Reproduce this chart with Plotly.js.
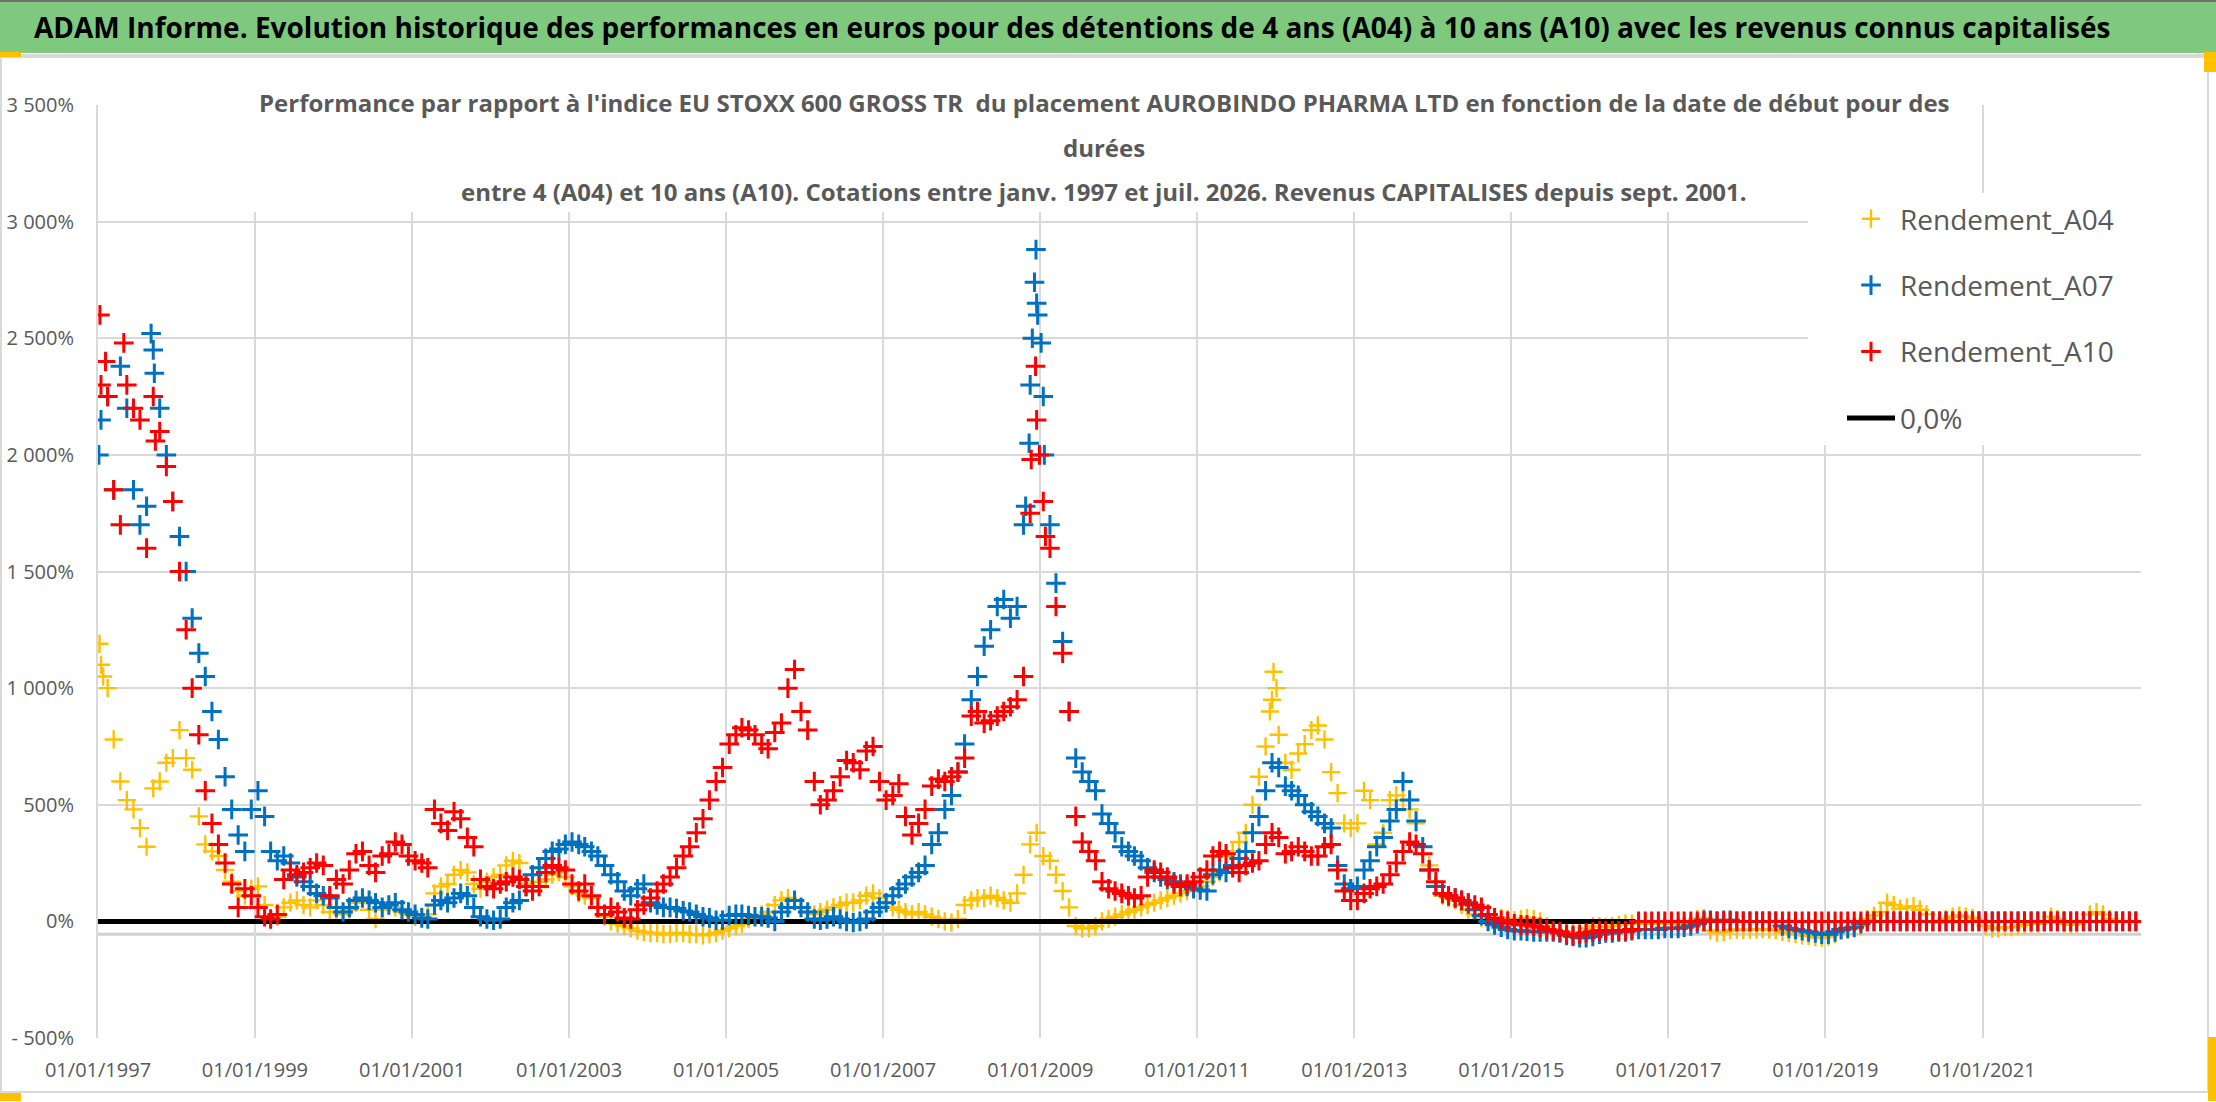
<!DOCTYPE html>
<html>
<head>
<meta charset="utf-8">
<script src="https://cdn.plot.ly/plotly-3.0.1.min.js"></script>
<style>
  html, body { margin: 0; padding: 0; background: #ffffff; }
  #graphique { width: 2216px; height: 1102px; }
</style>
</head>
<body>
<div id="graphique"></div>
<script>
// ============================================
// Performances A04 / A07 / A10 d'AUROBINDO PHARMA vs EU STOXX 600 GROSS TR
// Une valeur lue par mois (janv. 1997 -> déc. 2022), en %
// + quelques points isolés lus sur les pics
// ============================================

const premiereAnnee = 1997;   // les relevés commencent en janvier 1997

// Rendement sur 4 ans (jaune)
const rendementA04 = [
    1100, 1000, 780, 600, 520, 480, 400, 320, 570, 600, 680, 700,     // 1997
    820, 700, 650, 450, 330, 300, 280, 220, 170, 130, 110, 140,       // 1998
    150, 70, 10, 20, 60, 80, 90, 70, 60, 90, 70, 40,                  // 1999
    40, 30, 50, 80, 100, 50, 10, 50, 70, 60, 40, 30,                  // 2000
    20, 20, 30, 120, 150, 160, 200, 220, 210, 160, 140, 170,          // 2001
    190, 200, 240, 260, 250, 160, 150, 170, 180, 200, 210, 190,       // 2002
    150, 120, 110, 100, 60, 20, 0, -10, -20, -30, -40, -45,           // 2003
    -50, -50, -55, -55, -50, -50, -55, -55, -60, -55, -50, -40,       // 2004
    -30, -20, -10, 10, 20, 30, 40, 70, 90, 100, 90, 60,               // 2005
    40, 30, 40, 50, 60, 70, 80, 80, 90, 110, 120, 100,                // 2006
    80, 60, 50, 40, 30, 40, 30, 20, 10, 0, -5, 10,                    // 2007
    70, 90, 100, 100, 110, 100, 90, 80, 120, 200, 330, 380,           // 2008
    280, 260, 200, 130, 60, -20, -30, -30, -20, 0, 10, 20,            // 2009
    30, 40, 50, 60, 70, 80, 90, 100, 110, 120, 130, 140,              // 2010
    150, 170, 190, 210, 280, 300, 340, 380, 500, 620, 750, 950,       // 2011
    800, 680, 650, 720, 760, 820, 840, 780, 640, 550, 420, 400,       // 2012
    420, 560, 520, 330, 380, 520, 540, 520, 480, 420, 320, 240,       // 2013
    150, 110, 100, 90, 70, 50, 30, 15, 10, 10, 15, 10,                // 2014
    5, 10, 15, 10, 0, -20, -35, -45, -50, -50, -45, -30,              // 2015
    -20, -20, -25, -20, -15, -10, -10, -5, -10, -10, -10, -5,         // 2016
    -10, -10, -10, -10, 10, 15, -40, -48, -45, -38, -35, -38,         // 2017
    -36, -35, -33, -35, -38, -45, -50, -55, -60, -62, -68, -70,       // 2018
    -65, -55, -40, -35, -30, -20, 10, 25, 40, 80, 70, 55,             // 2019
    60, 65, 50, 30, 0, -5, 10, 20, 25, 20, 15, 5,                     // 2020
    -20, -30, -30, -25, -25, -20, -15, -10, -10, -5, 20, 10,          // 2021
    -10, -15, -10, 0, 30, 40, 30, 10, 0, 0, 0, 0                      // 2022
];

// Rendement sur 7 ans (bleu)
const rendementA07 = [
    2150, 2250, 1850, 2380, 2200, 1850, 1700, 1780, 2450, 2200, 2000, 1800,  // 1997
    1650, 1500, 1300, 1150, 1050, 900, 780, 620, 480, 370, 300, 480,         // 1998
    560, 450, 300, 260, 280, 250, 190, 170, 150, 120, 110, 100,              // 1999
    60, 40, 60, 90, 100, 90, 80, 60, 70, 80, 50, 40,                         // 2000
    30, 15, 10, 70, 90, 80, 100, 120, 110, 60, 20, 10,                       // 2001
    5, 10, 60, 80, 90, 150, 200, 230, 270, 300, 310, 330,                    // 2002
    340, 330, 320, 300, 280, 240, 200, 170, 130, 110, 140, 160,              // 2003
    80, 70, 60, 60, 55, 45, 40, 30, 20, 15, 5, 5,                            // 2004
    25, 30, 30, 25, 20, 20, 15, 0, 40, 60, 90, 60,                           // 2005
    40, 10, 5, 10, 20, 10, 0, -5, 0, 10, 40, 60,                             // 2006
    80, 110, 140, 160, 190, 210, 240, 330, 380, 480, 540, 640,               // 2007
    760, 950, 1050, 1180, 1250, 1350, 1380, 1300, 1350, 1700, 2300, 2650,    // 2008
    2250, 1700, 1450, 1200, 900, 700, 640, 600, 560, 460, 420, 380,          // 2009
    320, 300, 280, 260, 230, 210, 190, 180, 170, 160, 150, 140,              // 2010
    135, 130, 200, 220, 210, 240, 270, 300, 380, 450, 560, 680,              // 2011
    660, 580, 560, 540, 500, 470, 450, 420, 400, 240, 160, 140,              // 2012
    150, 220, 260, 320, 360, 430, 480, 600, 520, 430, 320, 220,              // 2013
    150, 120, 110, 100, 90, 80, 50, 25, 0, -15, -25, -35,                    // 2014
    -40, -40, -42, -45, -45, -45, -45, -50, -60, -65, -70, -70,              // 2015
    -65, -55, -50, -50, -45, -45, -40, -35, -35, -35, -35, -30,              // 2016
    -30, -30, -25, -20, -10, 5, 5, 0, 5, 5, 0, 0,                            // 2017
    0, 0, 0, 0, 0, -20, -30, -35, -40, -45, -50, -55,                        // 2018
    -55, -45, -35, -30, -25, -10, 0, 0, 0, 0, 0, 0,                          // 2019
    0, 0, 0, 0, 0, 0, 0, 0, 0, 0, 0, 0,                                      // 2020
    0, 0, 0, 0, 0, 0, 0, 0, 0, 0, 0, 0,                                      // 2021
    0, 0, 0, 0, 0, 0, 0, 0, 0, 0, 0, 0                                       // 2022
];

// Rendement sur 10 ans (rouge)
const rendementA10 = [
    2300, 2250, 1850, 1700, 2300, 2200, 2150, 1600, 2250, 2100, 1950, 1800,  // 1997
    1500, 1250, 1000, 800, 560, 420, 330, 250, 160, 60, 140, 110,            // 1998
    60, 20, 10, 30, 180, 220, 200, 210, 230, 250, 240, 110,                  // 1999
    180, 160, 220, 290, 300, 240, 210, 280, 290, 340, 330, 280,              // 2000
    260, 250, 230, 480, 420, 390, 470, 440, 360, 320, 180, 150,              // 2001
    140, 160, 170, 190, 180, 150, 130, 150, 210, 240, 230, 220,              // 2002
    160, 130, 160, 110, 60, 30, 60, 40, 15, 10, 50, 70,                      // 2003
    100, 130, 160, 190, 230, 280, 320, 380, 440, 520, 600, 660,              // 2004
    760, 800, 830, 820, 800, 760, 740, 810, 850, 1000, 1080, 900,            // 2005
    820, 600, 500, 520, 560, 620, 690, 680, 650, 730, 750, 600,              // 2006
    520, 540, 590, 450, 370, 420, 480, 580, 610, 600, 620, 640,              // 2007
    700, 880, 900, 850, 860, 880, 900, 920, 950, 1050, 1750, 2150,           // 2008
    1800, 1600, 1350, 1150, 900, 450, 340, 300, 260, 170, 140, 130,          // 2009
    120, 110, 100, 110, 190, 220, 210, 190, 160, 150, 160, 170,              // 2010
    190, 220, 280, 300, 290, 230, 210, 240, 250, 260, 330, 380,              // 2011
    360, 290, 300, 320, 300, 280, 280, 320, 330, 220, 130, 90,               // 2012
    90, 120, 140, 150, 160, 200, 250, 300, 340, 330, 290, 220,               // 2013
    170, 120, 110, 100, 90, 75, 70, 60, 30, 15, 5, 0,                        // 2014
    -10, -15, -15, -20, -25, -35, -40, -45, -55, -60, -55, -50,              // 2015
    -45, -40, -40, -40, -40, -40, -35, 0, 0, 0, 0, 0,                        // 2016
    0, 0, 0, 0, 0, 0, 0, 0, 0, 0, 0, 0,                                      // 2017
    0, 0, 0, 0, 0, 0, 0, 0, 0, 0, 0, 0,                                      // 2018
    0, 0, 0, 0, 0, 0, 0, 0, 0, 0, 0, 0,                                      // 2019
    0, 0, 0, 0, 0, 0, 0, 0, 0, 0, 0, 0,                                      // 2020
    0, 0, 0, 0, 0, 0, 0, 0, 0, 0, 0, 0,                                      // 2021
    0, 0, 0, 0, 0, 0, 0, 0, 0, 0, 0, 0                                       // 2022
];

const picsA04Dates = ['1997-01-08', '1997-01-25', '2011-12-05', '2011-12-22', '2012-01-05'];
const picsA04Valeurs = [1190, 1050, 900, 1070, 1000];
const picsA07Dates = ['1997-01-05', '1997-09-05', '1997-09-20', '2008-10-25', '2008-11-10',
    '2008-11-25', '2008-12-05', '2008-12-12', '2008-12-20', '2009-01-05', '2009-01-20'];
const picsA07Valeurs = [2000, 2520, 2350, 1780, 2050, 2500, 2740, 2880, 2600, 2480, 2000];
const picsA10Dates = ['1997-01-10', '1997-02-05', '1997-05-01', '1997-09-25', '2008-11-20',
    '2008-12-10', '2008-12-28', '2009-01-25'];
const picsA10Valeurs = [2600, 2400, 2480, 2060, 1980, 2380, 2000, 1650];

// Ligne de référence 0,0 %
const ligneZeroDates = ['1997-01-01', '2016-07-31'];
const ligneZeroValeurs = [0, 0];

// Graduations
const ticksDates = ['1997-01-01', '1999-01-01', '2001-01-01', '2003-01-01', '2005-01-01',
    '2007-01-01', '2009-01-01', '2011-01-01', '2013-01-01', '2015-01-01',
    '2017-01-01', '2019-01-01', '2021-01-01'];
const ticksDatesTexte = ['01/01/1997', '01/01/1999', '01/01/2001', '01/01/2003', '01/01/2005',
    '01/01/2007', '01/01/2009', '01/01/2011', '01/01/2013', '01/01/2015',
    '01/01/2017', '01/01/2019', '01/01/2021'];
const ticksPct = [-500, 0, 500, 1000, 1500, 2000, 2500, 3000, 3500];
const ticksPctTexte = ['- 500%', '0%', '500%', '1 000%', '1 500%', '2 000%', '2 500%', '3 000%', '3 500%'];

const titrePrincipal = "ADAM Informe. Evolution historique des performances en euros pour des détentions de 4 ans (A04) à 10 ans (A10) avec les revenus connus capitalisés";
const titreGraphique = [
    "Performance par rapport à l'indice EU STOXX 600 GROSS TR  du placement AUROBINDO PHARMA LTD en fonction de la date de début pour des",
    "durées",
    "entre 4 (A04) et 10 ans (A10). Cotations entre janv. 1997 et juil. 2026. Revenus CAPITALISES depuis sept. 2001."
];

// Dates du milieu de chaque mois relevé
function datesMensuelles(n) {
    const dates = [];
    for (let i = 0; i < n; i++) {
        const annee = premiereAnnee + Math.floor(i / 12);
        const mois = (i % 12) + 1;
        dates.push(annee + '-' + String(mois).padStart(2, '0') + '-15');
    }
    return dates;
}

// Cadre du graphique en pixels -> coordonnées "paper"
const cadre = { gauche: 98, droite: 2141, haut: 105, bas: 1038 };
const largeurPlot = cadre.droite - cadre.gauche;
const hauteurPlot = cadre.bas - cadre.haut;
const px = x => (x - cadre.gauche) / largeurPlot;
const py = y => (cadre.bas - y) / hauteurPlot;

const police = 'Open Sans, Lato, sans-serif';
const gris = '#595959';

function traceCroix(nom, valeurs, picsDates, picsValeurs, couleur, taille, epaisseur, rang) {
    return {
        x: datesMensuelles(valeurs.length).concat(picsDates),
        y: valeurs.concat(picsValeurs),
        type: 'scatter',
        mode: 'markers',
        name: nom,
        legendrank: rang,
        legendgroup: nom,
        marker: {
            symbol: 'cross-thin',
            size: taille,
            color: couleur,
            line: { color: couleur, width: epaisseur }
        },
        hoverinfo: 'skip'
    };
}

const traces = [
    traceCroix('Rendement_A04', rendementA04, picsA04Dates, picsA04Valeurs, '#FFC000', 13, 2.4, 1),
    {
        x: ligneZeroDates,
        y: ligneZeroValeurs,
        type: 'scatter',
        mode: 'lines',
        name: '0,0%',
        legendrank: 4,
        legendgroup: 'zero',
        line: { color: '#000000', width: 5 },
        hoverinfo: 'skip'
    },
    traceCroix('Rendement_A07', rendementA07, picsA07Dates, picsA07Valeurs, '#0070C0', 14, 3, 2),
    traceCroix('Rendement_A10', rendementA10, picsA10Dates, picsA10Valeurs, '#FF0000', 14, 3, 3)
];

const annotations = [
    {
        text: titrePrincipal,
        xref: 'paper', yref: 'paper',
        x: px(1072), y: py(27),
        xanchor: 'center', yanchor: 'middle',
        showarrow: false,
        font: { family: police, size: 28, color: '#000000', weight: 'bold' }
    }
];
const lignesTitreY = [102, 148, 192];
titreGraphique.forEach((ligne, i) => {
    annotations.push({
        text: ligne,
        xref: 'paper', yref: 'paper',
        x: px(1104), y: py(lignesTitreY[i]),
        xanchor: 'center', yanchor: 'middle',
        showarrow: false,
        font: { family: police, size: 24, color: gris, weight: 'bold' }
    });
});

const shapes = [
    // bandeau vert
    { type: 'rect', xref: 'paper', yref: 'paper', x0: px(0), x1: px(2216), y0: py(53), y1: py(0),
      fillcolor: '#7fc97f', line: { width: 0 }, layer: 'below' },
    { type: 'line', xref: 'paper', yref: 'paper', x0: px(0), x1: px(2216), y0: py(1), y1: py(1),
      line: { color: '#6e6e6e', width: 2 } },
    { type: 'line', xref: 'paper', yref: 'paper', x0: px(0), x1: px(2216), y0: py(55.5), y1: py(55.5),
      line: { color: '#d9d9d9', width: 3 } },
    // cadre de la zone graphique
    { type: 'rect', xref: 'paper', yref: 'paper', x0: px(1), x1: px(2208), y0: py(1092), y1: py(57),
      line: { color: '#d9d9d9', width: 2 }, layer: 'below' },
    // poignées de sélection
    { type: 'rect', xref: 'paper', yref: 'paper', x0: px(0), x1: px(21), y0: py(57), y1: py(52),
      fillcolor: '#ffc000', line: { width: 0 } },
    { type: 'rect', xref: 'paper', yref: 'paper', x0: px(2204), x1: px(2216), y0: py(72), y1: py(52),
      fillcolor: '#ffc000', line: { width: 0 } },
    { type: 'rect', xref: 'paper', yref: 'paper', x0: px(0), x1: px(21), y0: py(1101), y1: py(1093),
      fillcolor: '#ffc000', line: { width: 0 } },
    { type: 'rect', xref: 'paper', yref: 'paper', x0: px(2208), x1: px(2216), y0: py(1101), y1: py(1037),
      fillcolor: '#ffc000', line: { width: 0 } },
    // axe horizontal (croise sous le 0)
    { type: 'line', xref: 'paper', yref: 'y', x0: 0, x1: 1, y0: -55, y1: -55,
      line: { color: '#d0d0d0', width: 3 }, layer: 'below' },
    // fond blanc du titre du graphique
    { type: 'rect', xref: 'paper', yref: 'paper', x0: px(247), x1: px(1964), y0: py(212), y1: py(86),
      fillcolor: '#ffffff', line: { width: 0 }, layer: 'above' },
    // fond blanc de la légende
    { type: 'rect', xref: 'paper', yref: 'paper', x0: px(1808), x1: 1, y0: py(445), y1: py(193),
      fillcolor: '#ffffff', line: { width: 0 }, layer: 'above' }
];

const layout = {
    width: 2216,
    height: 1102,
    paper_bgcolor: '#ffffff',
    plot_bgcolor: '#ffffff',
    margin: { l: cadre.gauche, r: 2216 - cadre.droite, t: cadre.haut, b: 1102 - cadre.bas, pad: 0 },
    font: { family: police, color: gris },
    showlegend: true,
    legend: {
        x: px(1842), y: py(194),
        xanchor: 'left', yanchor: 'top',
        bgcolor: 'rgba(0,0,0,0)',
        borderwidth: 0,
        font: { family: police, size: 28, color: gris },
        itemwidth: 48,
        traceorder: 'grouped',
        tracegroupgap: 27
    },
    xaxis: {
        type: 'date',
        range: ['1997-01-01', '2023-01-08'],
        tickmode: 'array',
        tickvals: ticksDates,
        ticktext: ticksDatesTexte,
        tickfont: { family: police, size: 20, color: gris },
        ticklabelstandoff: 18,
        showgrid: true,
        gridcolor: '#d9d9d9',
        gridwidth: 2,
        zeroline: false,
        showline: false,
        ticks: ''
    },
    yaxis: {
        range: [-500, 3500],
        tickmode: 'array',
        tickvals: ticksPct,
        ticktext: ticksPctTexte,
        tickfont: { family: police, size: 20, color: gris },
        ticklabelstandoff: 18,
        showgrid: true,
        gridcolor: '#d9d9d9',
        gridwidth: 2,
        zeroline: false,
        showline: true,
        linecolor: '#d9d9d9',
        linewidth: 2,
        ticks: ''
    },
    shapes: shapes,
    annotations: annotations,
    hovermode: false
};

Plotly.newPlot('graphique', traces, layout, { displayModeBar: false, staticPlot: true });
</script>
</body>
</html>
